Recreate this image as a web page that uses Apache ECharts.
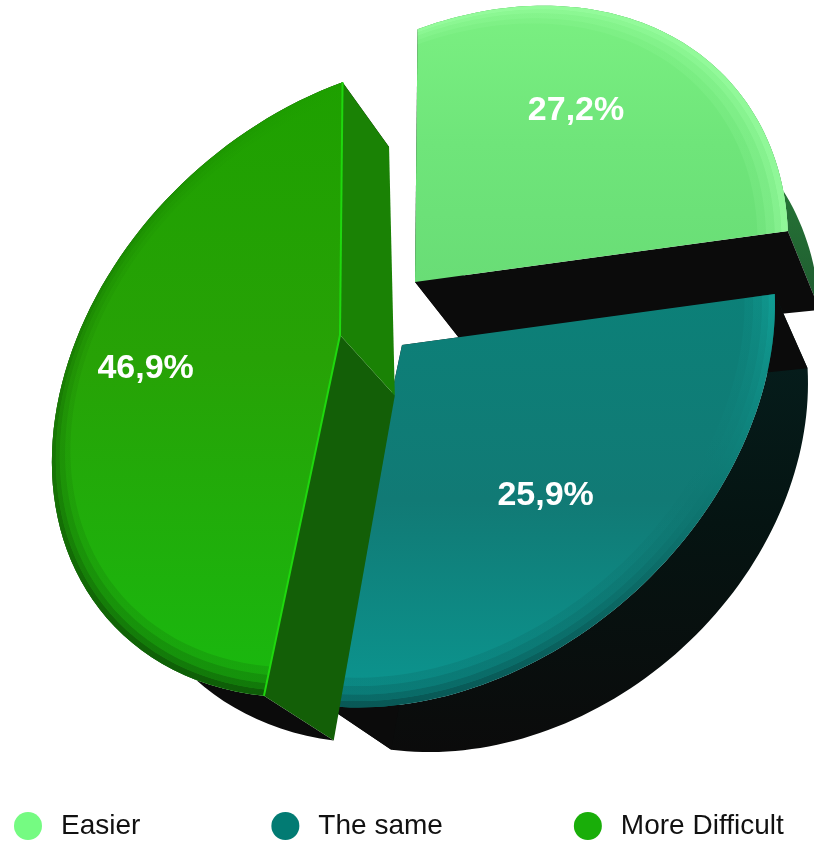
<!DOCTYPE html>
<html>
<head>
<meta charset="utf-8">
<style>html,body{margin:0;padding:0;background:#fff}#chart{width:814px;height:843px}</style>
<script src="https://cdn.jsdelivr.net/npm/echarts@6/dist/echarts.min.js"></script>
</head>
<body>
<div id="chart"></div>
<script>
// Answers and their shares, in percent, clockwise from twelve o'clock.
const categories = ['Easier', 'The same', 'More Difficult'];
const shares = [27.2, 25.9, 46.9];
const swatches = ['#75fb82', '#027b73', '#19ae09'];

// Where each exploded slice's tip lands on the page.
const tips = [[415, 282], [402, 345], [340, 335]];

// Perspective of the disc plane: unit-disc coordinates to page offsets.
const VIEW = { A: 320, B: -3, D: -85, E: 297, a: -0.128, b: -0.175 };
const VANISH = [1224, 1310];
const DEPTH = 0.062;
const LABEL_RADIUS = 0.67;

const faces = [
  { top: [[0, '#7bf082'], [0.5, '#6fe57a'], [1, '#69dd76']], rimLight: '#9dffa4', rimDark: '#9dffa4',
    side: [[0, '#2f9a3e'], [1, '#1f5a30']], walls: ['#0b0b0b', '#0b0b0b'] },
  { top: [[0, '#0c8078'], [0.5, '#117a75'], [1, '#0b9690']], rimLight: '#12a89e', rimDark: '#07403f',
    side: [[0, '#06201f'], [0.5, '#051412'], [1, '#0b0b0b']], walls: ['#0b0b0b', '#0b0b0b'] },
  { top: [[0, '#1ea000'], [0.45, '#27a206'], [1, '#19b90f']], rimLight: '#1ea000', rimDark: '#0a3a05',
    side: [[0, '#0b0b0b'], [1, '#0b0b0b']], walls: ['#135f07', '#1a8205'], edge: '#1fd80e' }
];

// Perspective projection of a disc point, before the slice is moved to its tip.
function project(x, y) {
  const w = 1 + VIEW.a * x + VIEW.b * y;
  return { x: (VIEW.A * x + VIEW.B * y) / w, y: (VIEW.D * x + VIEW.E * y) / w, w };
}
function upper(tip, r, theta) {
  const p = project(r * Math.sin(theta), -r * Math.cos(theta));
  return [tip[0] + p.x, tip[1] + p.y];
}
// The same disc point on the underside, pulled towards the vanishing point.
function lower(tip, r, theta) {
  const p = project(r * Math.sin(theta), -r * Math.cos(theta));
  const u = [tip[0] + p.x, tip[1] + p.y];
  const k = DEPTH / p.w;
  return [u[0] + k * (VANISH[0] - u[0]), u[1] + k * (VANISH[1] - u[1])];
}
function arc(fn, tip, r, from, to) {
  const pts = [];
  const steps = 72;
  for (let i = 0; i <= steps; i++) pts.push(fn(tip, r, from + (to - from) * i / steps));
  return pts;
}
function vertical(stops) {
  return { type: 'linear', x: 0, y: 0, x2: 0, y2: 1, colorStops: stops.map(s => ({ offset: s[0], color: s[1] })) };
}
function percentText(v) {
  return v.toFixed(1).replace('.', ',') + '%';
}

const total = shares.reduce((s, v) => s + v, 0);

function drawSlice(index, api) {
  const value = api.value(0);
  const before = shares.slice(0, index).reduce((s, v) => s + v, 0);
  const from = before / total * Math.PI * 2;
  const to = from + value / total * Math.PI * 2;
  const tip = tips[index];
  const look = faces[index];
  const children = [];
  const poly = (points, style, z2) => children.push({ type: 'polygon', shape: { points }, style, z2 });

  // Underside rim.
  poly(arc(upper, tip, 1, from, to).concat(arc(lower, tip, 1, from, to).reverse()),
    { fill: vertical(look.side) }, 1);

  // Cut faces on either side of the slice.
  [from, to].forEach((t, i) => {
    poly([upper(tip, 0, t), upper(tip, 1, t), lower(tip, 1, t), lower(tip, 0, t)],
      { fill: look.walls[i] }, 2);
  });

  // Top face.
  poly([upper(tip, 0, from)].concat(arc(upper, tip, 1, from, to)), { fill: vertical(look.top) }, 3);

  // Bevel along the outer edge.
  const bands = [[0.93, 0.95, 0.14], [0.95, 0.97, 0.3], [0.97, 0.985, 0.5], [0.985, 1, 0.72]];
  bands.forEach(b => {
    poly(arc(upper, tip, b[0], from, to).concat(arc(upper, tip, b[1], from, to).reverse()),
      { fill: vertical([[0, look.rimLight], [1, look.rimDark]]), opacity: b[2] }, 4);
  });

  // Bright seam on the cut edges.
  if (look.edge) {
    [from, to].forEach(t => {
      children.push({
        type: 'polyline', z2: 5,
        shape: { points: [upper(tip, 0, t), upper(tip, 1, t)] },
        style: { stroke: look.edge, lineWidth: 2, fill: null }
      });
    });
  }

  // Percentage on the slice.
  const anchor = upper(tip, LABEL_RADIUS, (from + to) / 2);
  children.push({
    type: 'text', z2: 6, x: anchor[0], y: anchor[1],
    style: {
      text: percentText(value), fill: '#fff', align: 'center', verticalAlign: 'middle',
      font: 'bold 34px "Liberation Sans", Arial, sans-serif',
      shadowColor: 'rgba(0,0,0,0.35)', shadowBlur: 3
    }
  });

  return { type: 'group', children };
}

const chart = echarts.init(document.getElementById('chart'), null, { renderer: 'canvas' });
chart.setOption({
  animation: false,
  backgroundColor: '#fff',
  legend: {
    left: 14, top: 812, icon: 'circle', itemWidth: 28, itemHeight: 28, itemGap: 131, padding: 0,
    selectedMode: false,
    data: categories,
    textStyle: {
      fontFamily: '"Liberation Sans", Arial, sans-serif', fontSize: 28, color: '#111',
      padding: [0, 0, 0, 14]
    }
  },
  series: categories.map((name, i) => ({
    type: 'custom',
    name,
    coordinateSystem: 'none',
    silent: true,
    z: i + 1,
    itemStyle: { color: swatches[i] },
    data: [[shares[i]]],
    renderItem: (params, api) => drawSlice(i, api)
  }))
});
</script>
</body>
</html>
